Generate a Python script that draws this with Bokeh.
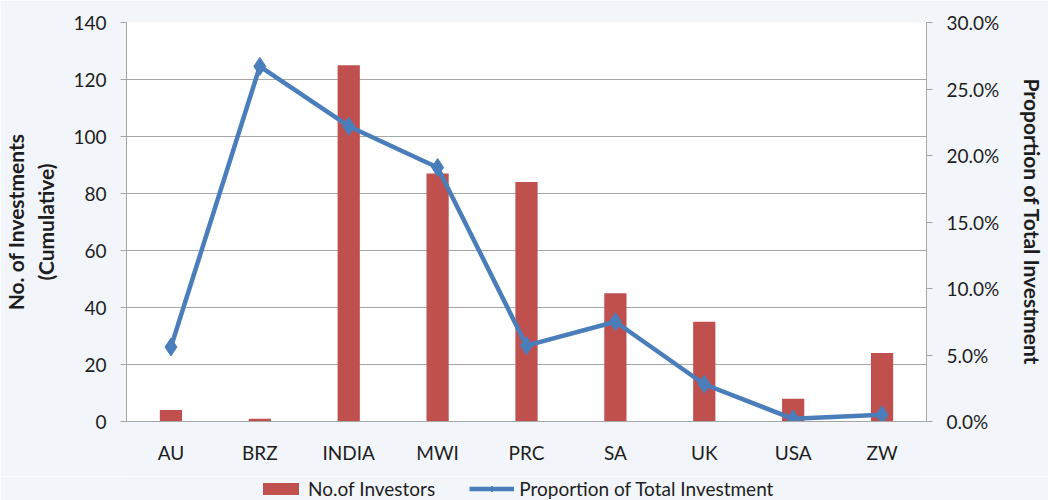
from bokeh.plotting import figure
from bokeh.layouts import column
from bokeh.models import (Range1d, LinearAxis, FactorRange, SingleIntervalTicker, FixedTicker,
                          NumeralTickFormatter, Legend, LegendItem, ColumnDataSource)
from bokeh.embed import file_html
from bokeh.resources import INLINE

countries = ["AU", "BRZ", "INDIA", "MWI", "PRC", "SA", "UK", "USA", "ZW"]
investors = [4, 1, 125, 87, 84, 45, 35, 8, 24]
proportion = [0.056, 0.267, 0.222, 0.191, 0.057, 0.075, 0.028, 0.002, 0.005]
pct_ticks = [0.0, 0.05, 0.10, 0.15, 0.20, 0.25, 0.30]

FONT = "Lato"
GRAY = "#a6a6a6"
BG = "#f2f6fa"
TXT = "#1e1e1e"
RED = "#C0504D"
BLUE = "#4A7EBB"

src = ColumnDataSource(dict(c=countries, n=investors, p=proportion))

p = figure(width=1048, height=476, x_range=FactorRange(*countries, range_padding=0),
           y_range=Range1d(0, 140), output_backend="svg", toolbar_location=None,
           min_border_left=124, min_border_right=121, min_border_top=22, min_border_bottom=55)
p.extra_y_ranges = {"pct": Range1d(0, 0.30)}

p.background_fill_color = "white"
p.border_fill_color = BG
p.outline_line_color = None

p.vbar(x="c", top="n", width=0.25, source=src, fill_color=RED, line_color=None)
p.line(x="c", y="p", source=src, y_range_name="pct", line_color=BLUE, line_width=4.5)
p.scatter(x="c", y="p", source=src, y_range_name="pct", marker="diamond", size=18,
          fill_color=BLUE, line_color=BLUE)

# x axis
xa = p.xaxis[0]
xa.axis_line_color = GRAY
xa.major_tick_line_color = None
xa.minor_tick_line_color = None
xa.major_label_text_font = FONT
xa.major_label_text_font_size = "19px"
xa.major_label_text_color = TXT
xa.major_label_standoff = 13

# left axis
ya = p.yaxis[0]
ya.ticker = SingleIntervalTicker(interval=20)
ya.axis_line_color = GRAY
ya.major_tick_line_color = GRAY
ya.major_tick_out = 6
ya.major_tick_in = 0
ya.minor_tick_line_color = None
ya.major_label_text_font = FONT
ya.major_label_text_font_size = "19px"
ya.major_label_text_color = TXT
ya.major_label_standoff = 14
ya.axis_label = "No. of Investments\n(Cumulative)"
ya.axis_label_text_font = FONT
ya.axis_label_text_font_style = "bold"
ya.axis_label_text_font_size = "21px"
ya.axis_label_text_color = TXT
ya.axis_label_standoff = 12

# right axis
ra = LinearAxis(y_range_name="pct", ticker=FixedTicker(ticks=pct_ticks),
                formatter=NumeralTickFormatter(format="0.0%"))
ra.axis_line_color = GRAY
ra.major_tick_line_color = GRAY
ra.major_tick_out = 6
ra.major_tick_in = 0
ra.minor_tick_line_color = None
ra.major_label_text_font = FONT
ra.major_label_text_font_size = "19px"
ra.major_label_text_color = TXT
ra.major_label_standoff = 14
ra.axis_label = "Proportion of Total Investment"
ra.axis_label_text_font = FONT
ra.axis_label_text_font_style = "bold"
ra.axis_label_text_font_size = "21px"
ra.axis_label_text_color = TXT
ra.axis_label_standoff = 18
p.add_layout(ra, "right")

p.xgrid.grid_line_color = None
p.ygrid.grid_line_color = GRAY
p.ygrid.ticker = SingleIntervalTicker(interval=20)

# legend strip below the chart (its renderers sit outside the strip's visible range)
lf = figure(width=1048, height=24, output_backend="svg", toolbar_location=None,
            x_axis_location=None, y_axis_location=None,
            x_range=FactorRange(*countries), y_range=Range1d(1000, 1001),
            min_border_left=0, min_border_right=0, min_border_top=0, min_border_bottom=0)
lf.background_fill_color = BG
lf.border_fill_color = BG
lf.outline_line_color = None
lf.xgrid.visible = False
lf.ygrid.visible = False
lb = lf.vbar(x="c", top="n", width=0.25, source=src, fill_color=RED, line_color=None)
ll = lf.line(x="c", y="p", source=src, line_color=BLUE, line_width=4.5)
lm = lf.scatter(x="c", y="p", source=src, marker="diamond", size=18,
                fill_color=BLUE, line_color=BLUE)

legend = Legend(items=[LegendItem(label="No.of Investors", renderers=[lb]),
                       LegendItem(label="Proportion of Total Investment", renderers=[ll, lm])],
                orientation="horizontal", location=(132, 0),
                glyph_width=45, glyph_height=15, label_standoff=5, spacing=34,
                label_height=20, padding=0, margin=0, border_line_color=None,
                background_fill_alpha=0,
                label_text_font=FONT, label_text_font_size="19px", label_text_color=TXT)
lf.add_layout(legend, "center")

layout = column(p, lf, spacing=0)
open("out.html", "w").write(file_html(layout, INLINE))
